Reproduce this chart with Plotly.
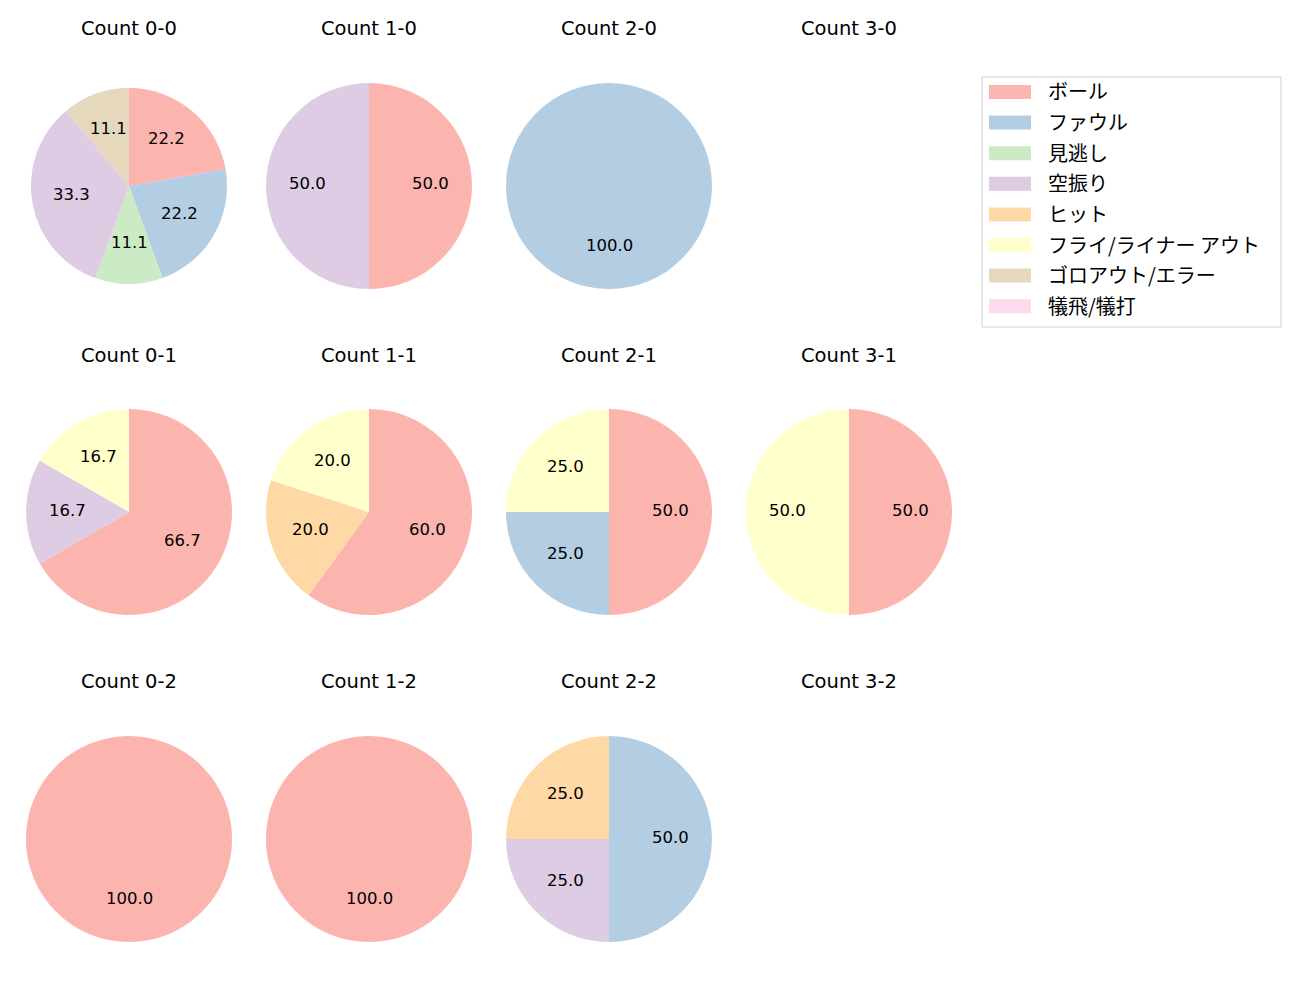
import math
import plotly.graph_objects as go

W, H = 1300, 1000

categories = ["ボール", "ファウル", "見逃し", "空振り", "ヒット",
              "フライ/ライナー アウト", "ゴロアウト/エラー", "犠飛/犠打"]
colors = ["#fbb4ae", "#b3cde3", "#ccebc5", "#decbe4", "#fed9a6",
          "#ffffcc", "#e5d8bd", "#fddaec"]

titles = ["Count 0-0", "Count 1-0", "Count 2-0", "Count 3-0",
          "Count 0-1", "Count 1-1", "Count 2-1", "Count 3-1",
          "Count 0-2", "Count 1-2", "Count 2-2", "Count 3-2"]

# slice labels and counts per panel (clockwise from 12 o'clock)
labels_00 = ["ボール", "ファウル", "見逃し", "空振り", "ゴロアウト/エラー"]
values_00 = [2, 2, 1, 3, 1]
labels_10 = ["ボール", "空振り"]
values_10 = [1, 1]
labels_20 = ["ファウル"]
values_20 = [1]
labels_30 = []
values_30 = []
labels_01 = ["ボール", "空振り", "フライ/ライナー アウト"]
values_01 = [4, 1, 1]
labels_11 = ["ボール", "ヒット", "フライ/ライナー アウト"]
values_11 = [3, 1, 1]
labels_21 = ["ボール", "ファウル", "フライ/ライナー アウト"]
values_21 = [2, 1, 1]
labels_31 = ["ボール", "フライ/ライナー アウト"]
values_31 = [1, 1]
labels_02 = ["ボール"]
values_02 = [1]
labels_12 = ["ボール"]
values_12 = [1]
labels_22 = ["ファウル", "空振り", "ヒット"]
values_22 = [2, 1, 1]
labels_32 = []
values_32 = []

panels = [(labels_00, values_00), (labels_10, values_10), (labels_20, values_20), (labels_30, values_30),
          (labels_01, values_01), (labels_11, values_11), (labels_21, values_21), (labels_31, values_31),
          (labels_02, values_02), (labels_12, values_12), (labels_22, values_22), (labels_32, values_32)]

# layout (pixels)
col_cx = [129, 369, 609, 849]
row_cy = [186, 512, 839]
title_y = [28, 355, 681]
radii = [98, 103, 103, 103, 103, 103, 103, 103, 103, 103, 103, 103]

LATIN = "DejaVu Sans"
CJK = "Noto Sans CJK JP"
cmap = dict(zip(categories, colors))

fig = go.Figure()
annotations = []
shapes = []

for i, (labs, vals) in enumerate(panels):
    r, c = divmod(i, 4)
    cx, cy, R = col_cx[c], row_cy[r], radii[i]
    annotations.append(dict(x=cx / W, y=1 - title_y[r] / H, xref="paper", yref="paper",
                            text=titles[i], showarrow=False, xanchor="center", yanchor="middle",
                            font=dict(family=LATIN, size=19.5, color="#000")))
    if not vals:
        continue
    fig.add_trace(go.Pie(
        labels=labs, values=vals, sort=False, direction="clockwise", rotation=0,
        marker=dict(colors=[cmap[l] for l in labs], line=dict(width=0)),
        textinfo="none", hoverinfo="label+percent", showlegend=False,
        domain=dict(x=[(cx - R) / W, (cx + R) / W], y=[1 - (cy + R) / H, 1 - (cy - R) / H]),
    ))
    total = sum(vals)
    acc = 0
    for v in vals:
        mid = (acc + v / 2) / total * 2 * math.pi
        acc += v
        px = cx + 0.6 * R * math.sin(mid)
        py = cy - 0.6 * R * math.cos(mid) - 2
        annotations.append(dict(x=px / W, y=1 - py / H, xref="paper", yref="paper",
                                text=f"{v / total * 100:.1f}", showarrow=False,
                                xanchor="center", yanchor="middle",
                                font=dict(family=LATIN, size=16.5, color="#000")))

# legend box
lx0, ly0, lx1, ly1 = 982, 77, 1281, 327
shapes.append(dict(type="rect", xref="paper", yref="paper",
                   x0=lx0 / W, x1=lx1 / W, y0=1 - ly1 / H, y1=1 - ly0 / H,
                   line=dict(color="#d0d0d0", width=1), fillcolor="rgba(255,255,255,0.8)"))
for k, (lab, col) in enumerate(zip(categories, colors)):
    yc = 92 + k * 30.6
    shapes.append(dict(type="rect", xref="paper", yref="paper",
                       x0=989 / W, x1=1031 / W, y0=1 - (yc + 7) / H, y1=1 - (yc - 7) / H,
                       line=dict(width=0), fillcolor=col))
    annotations.append(dict(x=1046 / W, y=1 - (yc - 1) / H, xref="paper", yref="paper",
                            text=lab, showarrow=False, xanchor="left", yanchor="middle",
                            font=dict(family=CJK, size=20, color="#000")))

fig.update_layout(width=W, height=H, margin=dict(l=0, r=0, t=0, b=0),
                  paper_bgcolor="white", plot_bgcolor="white",
                  annotations=annotations, shapes=shapes, showlegend=False)
fig.write_html("out.html")
